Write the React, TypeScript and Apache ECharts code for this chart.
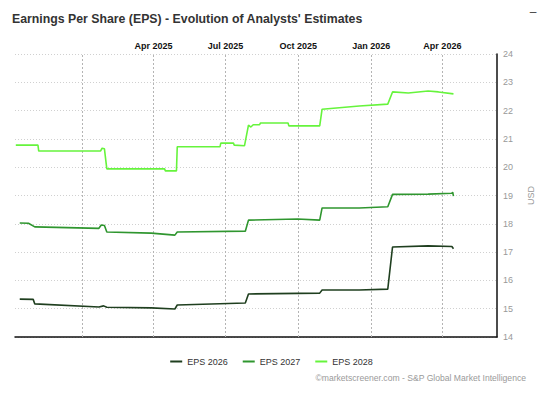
import React, { useEffect, useRef } from "react";
import * as echarts from "echarts";

const eps2026Dates = ["2024-10-14","2024-10-31","2024-11-02","2025-01-22","2025-01-28","2025-02-01","2025-03-29","2025-04-28","2025-05-01","2025-07-26","2025-07-30","2025-10-28","2025-10-31","2025-12-17","2026-01-22","2026-01-28","2026-03-14","2026-04-13","2026-04-15"];
const eps2026Values = [15.34,15.33,15.17,15.06,15.1,15.05,15.03,14.99,15.13,15.2,15.52,15.55,15.66,15.66,15.69,17.18,17.22,17.2,17.12];

const eps2027Dates = ["2024-10-14","2024-10-25","2024-11-02","2025-01-22","2025-01-25","2025-01-29","2025-02-01","2025-03-29","2025-04-28","2025-05-01","2025-07-26","2025-07-30","2025-09-30","2025-10-28","2025-10-31","2025-12-17","2026-01-22","2026-01-28","2026-03-14","2026-04-13","2026-04-14","2026-04-15"];
const eps2027Values = [18.03,18.02,17.89,17.84,17.96,17.94,17.71,17.67,17.6,17.71,17.74,18.13,18.17,18.13,18.56,18.56,18.6,19.04,19.05,19.08,19.12,18.98];

const eps2028Dates = ["2024-10-09","2024-11-06","2024-11-07","2025-01-24","2025-01-26","2025-01-29","2025-02-01","2025-04-15","2025-04-16","2025-04-30","2025-05-01","2025-06-24","2025-06-25","2025-07-11","2025-07-12","2025-07-25","2025-07-30","2025-08-02","2025-08-05","2025-08-13","2025-08-14","2025-09-18","2025-09-19","2025-10-28","2025-10-31","2025-12-17","2026-01-22","2026-01-28","2026-02-17","2026-03-14","2026-03-27","2026-04-15"];
const eps2028Values = [20.78,20.78,20.57,20.57,20.67,20.65,19.94,19.94,19.87,19.87,20.72,20.72,20.85,20.85,20.78,20.76,21.49,21.42,21.5,21.5,21.56,21.56,21.46,21.46,22.05,22.16,22.23,22.66,22.62,22.69,22.66,22.59];

const seriesNames = ["EPS 2026", "EPS 2027", "EPS 2028"];
const seriesColors = ["#1f3f1f", "#2f962f", "#66f43c"];

const gridDates = ["2025-01-01", "2025-04-01", "2025-07-01", "2025-10-01", "2026-01-01", "2026-04-01"];
const gridLabels = ["", "Apr 2025", "Jul 2025", "Oct 2025", "Jan 2026", "Apr 2026"];

const xMin = "2024-10-08";
const xMax = "2026-06-09";
const yMin = 14;
const yMax = 24;

const FONT = 'Arial, "Liberation Sans", Helvetica, sans-serif';

function pairs(d: string[], v: number[]) {
  return d.map((x, i) => [x, v[i]]);
}

export default function App() {
  const ref = useRef<HTMLDivElement>(null);
  useEffect(() => {
    document.body.style.margin = "0";
    const chart = echarts.init(ref.current!, null, { renderer: "svg" });
    const dataSets = [
      pairs(eps2026Dates, eps2026Values),
      pairs(eps2027Dates, eps2027Values),
      pairs(eps2028Dates, eps2028Values),
    ];
    chart.setOption({
      animation: false,
      backgroundColor: "#ffffff",
      textStyle: { fontFamily: FONT },
      title: {
        text: "Earnings Per Share (EPS) - Evolution of Analysts' Estimates",
        left: 7,
        top: 8,
        textStyle: { fontSize: 12.3, fontWeight: "bold", color: "#333333", fontFamily: FONT },
      },
      graphic: [
        {
          type: "text",
          x: 533,
          y: 12,
          style: { text: "–", fontSize: 12, fill: "#444", fontFamily: FONT, align: "center", verticalAlign: "middle" },
        },
        {
          type: "text",
          x: 526,
          y: 378,
          style: {
            text: "©marketscreener.com - S&P Global Market Intelligence",
            fontSize: 8.6,
            fill: "#9a9a9a",
            fontFamily: FONT,
            align: "right",
            verticalAlign: "middle",
          },
        },
      ],
      legend: {
        data: seriesNames,
        left: "center",
        top: 352,
        itemGap: 15,
        itemWidth: 12,
        itemHeight: 2,
        icon: "rect",
        textStyle: { fontSize: 9, color: "#333", fontFamily: FONT },
      },
      grid: { left: 15, right: 41, top: 54, bottom: 57, containLabel: false },
      xAxis: {
        type: "time",
        min: xMin,
        max: xMax,
        axisLine: { show: true, lineStyle: { color: "#111", width: 1.5 } },
        axisTick: { show: false },
        axisLabel: { show: false },
        splitLine: { show: false },
      },
      yAxis: {
        type: "value",
        position: "right",
        min: yMin,
        max: yMax,
        interval: 1,
        name: "USD",
        nameLocation: "middle",
        nameRotate: 90,
        nameGap: 29,
        nameTextStyle: { fontSize: 9, color: "#999", fontFamily: FONT },
        axisLine: { show: true, lineStyle: { color: "#111", width: 1.5 } },
        axisTick: { show: false },
        axisLabel: { fontSize: 9, color: "#999", margin: 6, fontFamily: FONT },
        splitLine: { show: true, lineStyle: { color: "#d0d0d0", type: [1, 2], width: 1 } },
      },
      series: seriesNames.map((name, i) => ({
        name,
        type: "line",
        data: dataSets[i],
        showSymbol: false,
        symbol: "none",
        color: seriesColors[i],
        lineStyle: { color: seriesColors[i], width: 1.6 },
        z: 3,
        markLine:
          i === 0
            ? {
                silent: true,
                symbol: ["none", "none"],
                animation: false,
                lineStyle: { color: "#b4b4b4", type: [2, 2], width: 1, opacity: 1 },
                label: {
                  show: true,
                  position: "end",
                  distance: 4,
                  fontSize: 9,
                  fontWeight: "bold",
                  color: "#111",
                  fontFamily: FONT,
                  formatter: (p: any) => p.name,
                },
                emphasis: { disabled: true },
                data: gridDates.map((d, k) => [
                  { coord: [d, yMin], name: gridLabels[k] },
                  { coord: [d, yMax] },
                ]),
                z: 1,
              }
            : undefined,
      })),
    });
    return () => chart.dispose();
  }, []);
  return <div ref={ref} style={{ width: 543, height: 394 }} />;
}
